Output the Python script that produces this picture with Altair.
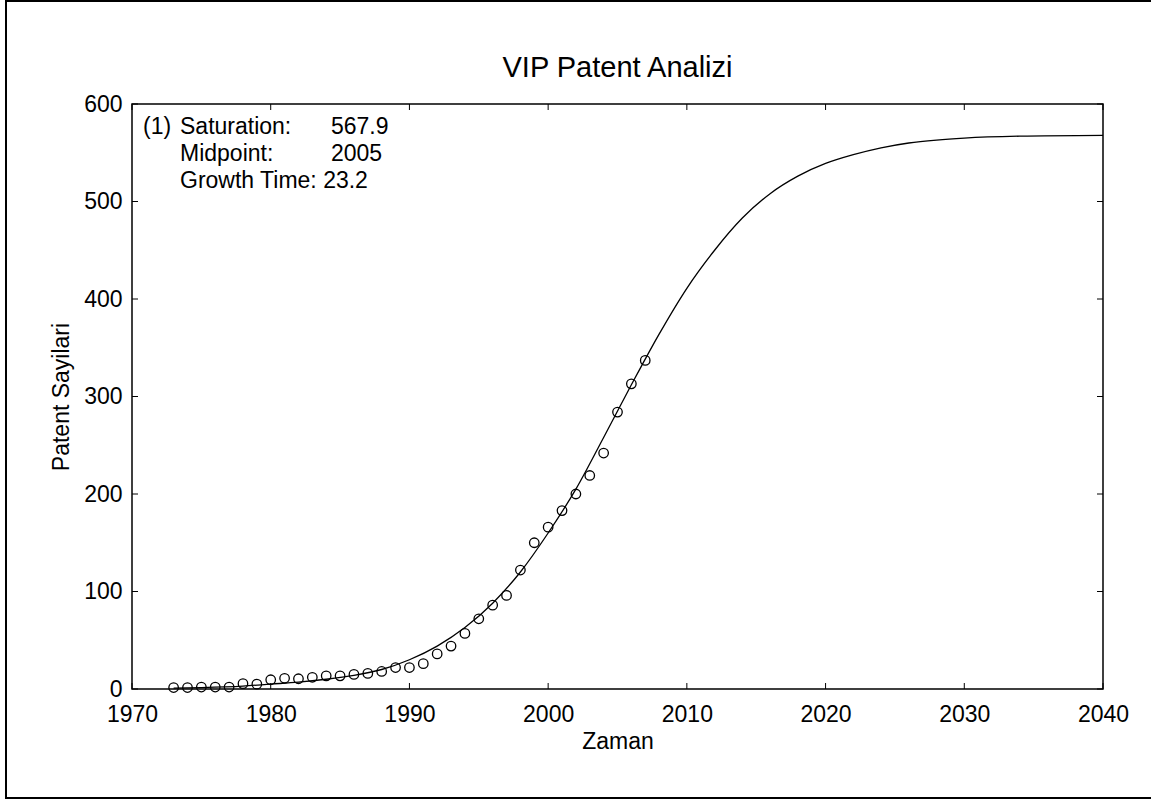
import altair as alt
import pandas as pd

# observed patent counts
years = list(range(1973, 2008))
patents = [1.5, 1.5, 2, 2, 2, 5.5, 5, 9.5, 11, 10.5, 12, 13.5, 13.5, 15, 16, 18,
           22, 22, 26, 36, 44, 57, 72, 86, 96, 122, 150, 166, 183, 200, 219, 242,
           284, 313, 337]

# fitted logistic curve
fit_years = [1973, 1975, 1978, 1980, 1982, 1984, 1986, 1988, 1990, 1992, 1994,
             1996, 1998, 2000, 2002, 2004, 2006, 2008, 2010, 2012, 2014, 2016,
             2018, 2020, 2022, 2024, 2026, 2028, 2030, 2034, 2040]
fit_values = [1, 1.5, 3, 5, 7, 10, 14, 20, 30, 44, 63, 88, 120, 160, 205, 258,
              312, 364, 411, 450, 483, 508, 526, 539, 548, 555, 560, 563, 565,
              567, 567.9]

x_ticks = [1970, 1980, 1990, 2000, 2010, 2020, 2030, 2040]
y_ticks = [0, 100, 200, 300, 400, 500, 600]

title_text = "VIP Patent Analizi"
x_title = "Zaman"
y_title = "Patent Sayilari"
ann_prefix = "(1)"
ann_labels = ["Saturation:", "Midpoint:", "Growth Time: 23.2"]
ann_values = ["567.9", "2005"]

W, H = 971, 585
FONT = "Liberation Sans"
FS = 23

pts = pd.DataFrame({"year": years, "count": patents})
fit = pd.DataFrame({"year": fit_years, "count": fit_values})
xt = pd.DataFrame({"year": x_ticks})
yt = pd.DataFrame({"count": y_ticks})

xscale = alt.Scale(domain=[1970, 2040], nice=False, zero=False)
yscale = alt.Scale(domain=[0, 600], nice=False)

xenc = alt.X("year:Q", scale=xscale,
             axis=alt.Axis(values=x_ticks, format="d", title=x_title,
                           labelPadding=14, labelFlush=False,
                           titleX=W / 2, titleY=52,
                           titleAlign="center", titleBaseline="middle"))
yenc = alt.Y("count:Q", scale=yscale,
             axis=alt.Axis(values=y_ticks, format="d", title=y_title,
                           labelPadding=10, labelFlush=False,
                           titleX=-71, titleY=H / 2,
                           titleAngle=270, titleAlign="center",
                           titleBaseline="middle"))

curve = alt.Chart(fit).mark_line(color="black", strokeWidth=1.3,
                                 interpolate="monotone").encode(x=xenc, y=yenc)
points = alt.Chart(pts).mark_point(shape="circle", filled=False, size=90,
                                   color="black", strokeWidth=1.3,
                                   opacity=1).encode(x="year:Q", y="count:Q")

tick_b = alt.Chart(xt).mark_rule(color="black").encode(
    x="year:Q", y=alt.value(H), y2=alt.value(H - 6))
tick_t = alt.Chart(xt).mark_rule(color="black").encode(
    x="year:Q", y=alt.value(0), y2=alt.value(6))
tick_l = alt.Chart(yt).mark_rule(color="black").encode(
    y="count:Q", x=alt.value(0), x2=alt.value(6))
tick_r = alt.Chart(yt).mark_rule(color="black").encode(
    y="count:Q", x=alt.value(W), x2=alt.value(W - 6))

frame = alt.Chart(pd.DataFrame({"k": [0]})).mark_rect(
    fill=None, stroke="black", strokeWidth=2).encode(
    x=alt.value(-126), x2=alt.value(W + 100),
    y=alt.value(-103), y2=alt.value(H + 109))


def label(txt, px, py, size=FS, align="left"):
    return alt.Chart(pd.DataFrame({"t": [txt]})).mark_text(
        font=FONT, fontSize=size, align=align, baseline="middle",
        color="black").encode(text="t:N", x=alt.value(px), y=alt.value(py))


title = label(title_text, W / 2, -36, size=29, align="center")
ann = [label(ann_prefix, 11, 23)]
for i, t in enumerate(ann_labels):
    ann.append(label(t, 48, 23 + 27 * i))
for i, t in enumerate(ann_values):
    ann.append(label(t, 199, 23 + 27 * i))

chart = alt.layer(curve, points, tick_b, tick_t, tick_l, tick_r, frame, title, *ann).properties(
    width=W, height=H,
    autosize=alt.AutoSizeParams(type="none"),
    padding={"left": 132, "top": 104, "right": 48, "bottom": 112},
    background="white",
).configure_view(stroke="black", strokeWidth=1.5).configure_axis(
    domain=False, ticks=False, grid=False, labelFont=FONT, labelFontSize=FS,
    labelColor="black", titleFont=FONT, titleFontSize=FS,
    titleFontWeight="normal", titleColor="black")

chart.save("out.html", embed_options={"renderer": "svg", "actions": False})
